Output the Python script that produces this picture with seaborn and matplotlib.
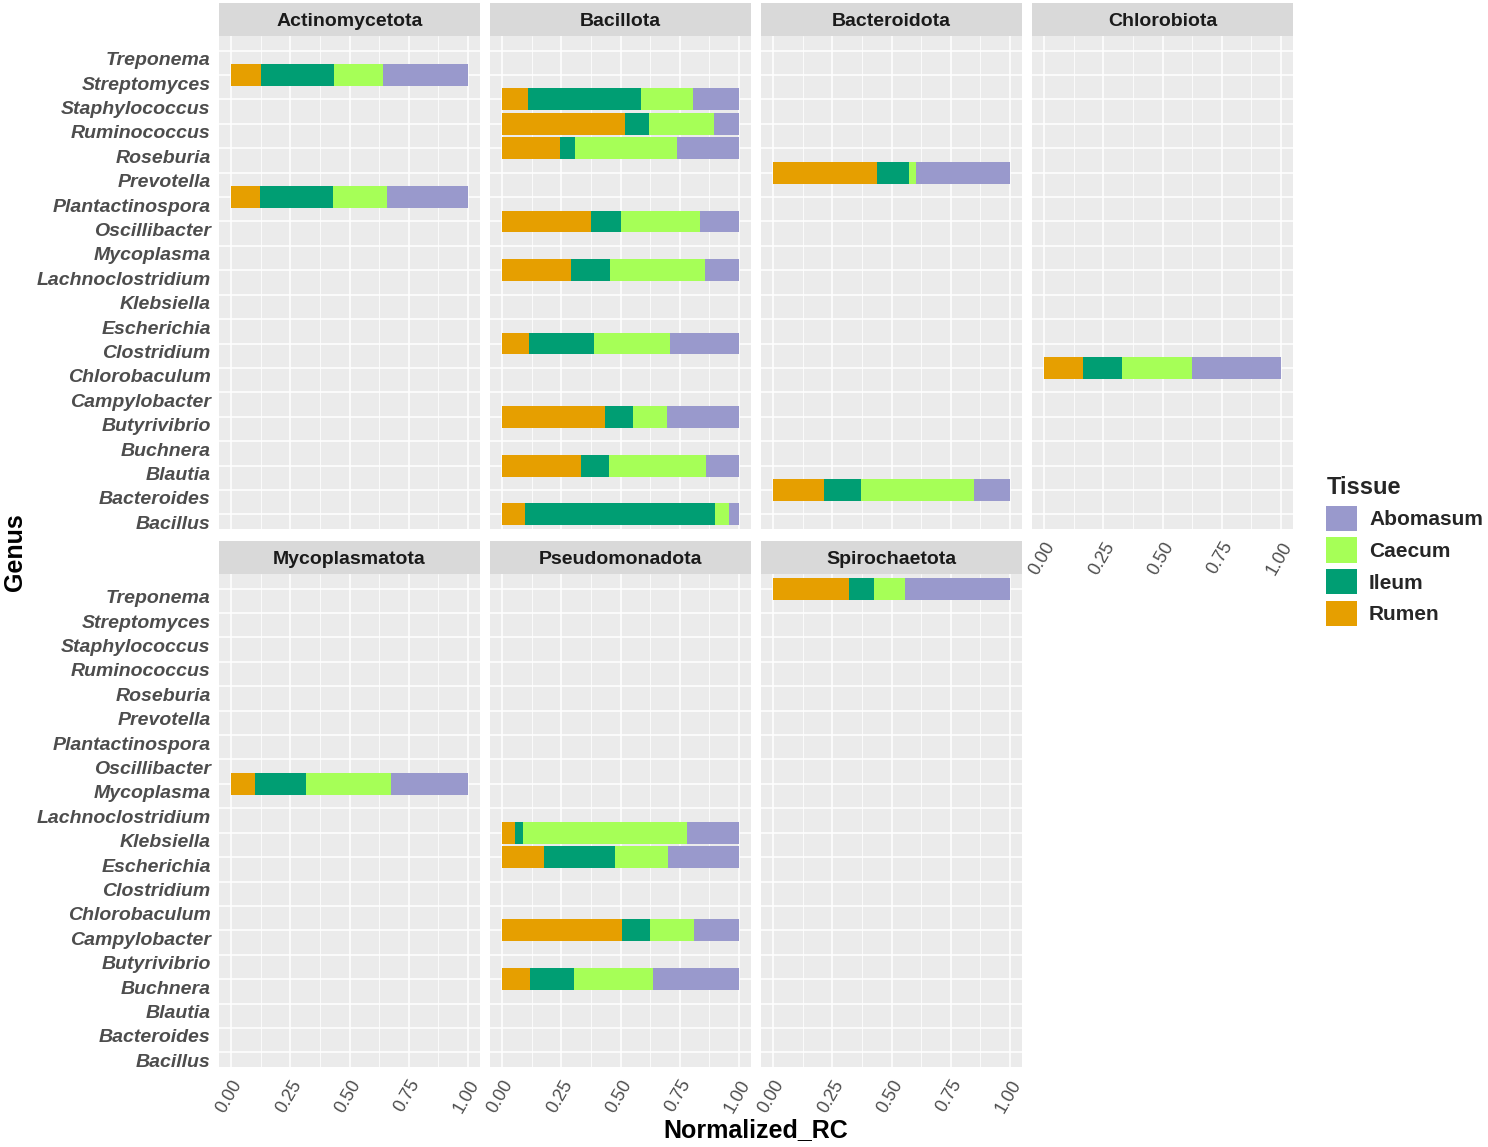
import numpy as np
import pandas as pd
import seaborn as sns
import matplotlib.pyplot as plt
from matplotlib.patches import Patch
from matplotlib.ticker import MultipleLocator
from matplotlib.transforms import ScaledTranslation
from matplotlib.font_manager import FontProperties

# Generos (de cima para baixo no eixo)
generos = ["Treponema", "Streptomyces", "Staphylococcus", "Ruminococcus", "Roseburia",
           "Prevotella", "Plantactinospora", "Oscillibacter", "Mycoplasma",
           "Lachnoclostridium", "Klebsiella", "Escherichia", "Clostridium",
           "Chlorobaculum", "Campylobacter", "Butyrivibrio", "Buchnera", "Blautia",
           "Bacteroides", "Bacillus"]

filos = ["Actinomycetota", "Bacillota", "Bacteroidota", "Chlorobiota",
         "Mycoplasmatota", "Pseudomonadota", "Spirochaetota"]

tecidos = ["Rumen", "Ileum", "Caecum", "Abomasum"]
cores = {"Rumen": "#E69F00", "Ileum": "#009E73", "Caecum": "#A6FF57", "Abomasum": "#9999CC"}

# Proporcao normalizada por tecido (Rumen, Ileum, Caecum, Abomasum)
filo = ["Actinomycetota", "Actinomycetota",
        "Bacillota", "Bacillota", "Bacillota", "Bacillota", "Bacillota",
        "Bacillota", "Bacillota", "Bacillota", "Bacillota",
        "Bacteroidota", "Bacteroidota",
        "Chlorobiota",
        "Mycoplasmatota",
        "Pseudomonadota", "Pseudomonadota", "Pseudomonadota", "Pseudomonadota",
        "Spirochaetota"]
genero = ["Streptomyces", "Plantactinospora",
          "Staphylococcus", "Ruminococcus", "Roseburia", "Oscillibacter", "Lachnoclostridium",
          "Clostridium", "Butyrivibrio", "Blautia", "Bacillus",
          "Prevotella", "Bacteroides",
          "Chlorobaculum",
          "Mycoplasma",
          "Klebsiella", "Escherichia", "Campylobacter", "Buchnera",
          "Treponema"]
rumen =    [0.127, 0.122, 0.109, 0.520, 0.244, 0.374, 0.290, 0.114, 0.433, 0.332, 0.097,
            0.437, 0.217, 0.164, 0.101, 0.055, 0.178, 0.505, 0.118, 0.320]
ileum =    [0.308, 0.310, 0.476, 0.100, 0.066, 0.127, 0.166, 0.273, 0.121, 0.120, 0.802,
            0.137, 0.156, 0.166, 0.216, 0.033, 0.300, 0.118, 0.188, 0.108]
caecum =   [0.205, 0.226, 0.219, 0.276, 0.429, 0.332, 0.402, 0.323, 0.144, 0.409, 0.058,
            0.030, 0.475, 0.296, 0.357, 0.692, 0.223, 0.185, 0.330, 0.127]
abomasum = [0.360, 0.342, 0.196, 0.104, 0.261, 0.167, 0.142, 0.290, 0.302, 0.139, 0.043,
            0.396, 0.152, 0.374, 0.326, 0.220, 0.299, 0.192, 0.364, 0.445]

df = pd.DataFrame({"Filo": filo, "Genus": genero, "Rumen": rumen, "Ileum": ileum,
                   "Caecum": caecum, "Abomasum": abomasum})
# soma acumulada para empilhar as barras
acum = df[tecidos].cumsum(axis=1)
for t in tecidos:
    df["cum_" + t] = acum[t]

sns.set_theme(style="darkgrid")
plt.rcParams["font.family"] = ["Liberation Sans", "DejaVu Sans"]

W, H = 1488, 1147
fig = plt.figure(figsize=(W / 100, H / 100), dpi=100)
fig.patch.set_facecolor("white")


def caixa(x0, y0, x1, y1):
    return [x0 / W, 1 - y1 / H, (x1 - x0) / W, (y1 - y0) / H]


colunas = [(219, 480), (490, 751), (761, 1022), (1032, 1293)]
linhas = [(3, 36, 529), (541, 574, 1067)]
cinza_texto = "#4D4D4D"

for i, nome in enumerate(filos):
    lin, col = divmod(i, 4)
    x0, x1 = colunas[col]
    ys, y0, y1 = linhas[lin]

    # faixa com o nome do filo
    fx = fig.add_axes(caixa(x0, ys, x1, y0))
    fx.set_facecolor("#D9D9D9")
    fx.set_xticks([]); fx.set_yticks([])
    for s in fx.spines.values():
        s.set_visible(False)
    fx.text(0.5, 0.45, nome, ha="center", va="center", fontsize=14,
            fontweight="bold", color="#1A1A1A", transform=fx.transAxes)

    ax = fig.add_axes(caixa(x0, y0, x1, y1))
    sub = df[df["Filo"] == nome]
    for t in tecidos[::-1]:
        sns.barplot(data=sub, x="cum_" + t, y="Genus", order=generos, orient="h",
                    color=cores[t], saturation=1, width=0.9, errorbar=None,
                    linewidth=0, ax=ax)

    ax.set_facecolor("#EBEBEB")
    for s in ax.spines.values():
        s.set_visible(False)
    ax.set_xlim(-0.05, 1.05)
    ax.set_ylim(len(generos) - 1 + 0.6, -0.6)
    ax.set_xticks([0, 0.25, 0.5, 0.75, 1.0])
    ax.xaxis.set_minor_locator(MultipleLocator(0.125))
    ax.set_axisbelow(True)
    ax.grid(True, which="major", color="white", linewidth=1.1)
    ax.grid(True, which="minor", axis="x", color="white", linewidth=0.55)
    ax.set_xlabel("")
    ax.set_ylabel("")
    ax.tick_params(axis="both", which="major", length=3, width=1.1, color="#333333",
                   labelcolor=cinza_texto)
    ax.tick_params(axis="x", which="minor", length=0)

    if col == 0:
        ax.set_yticks(range(len(generos)))
        ax.set_yticklabels(generos, fontsize=14, fontweight="bold", fontstyle="italic")
        ax.tick_params(axis="y", pad=3)
        for lab in ax.get_yticklabels():
            lab.set_transform(lab.get_transform() +
                              ScaledTranslation(0, -0.08, fig.dpi_scale_trans))
    else:
        ax.tick_params(axis="y", length=0, labelleft=False)

    if lin == 1 or nome == "Chlorobiota":
        ax.set_xticklabels(["0.00", "0.25", "0.50", "0.75", "1.00"], fontsize=13,
                           rotation=60, ha="right", va="top", rotation_mode="anchor")
        ax.tick_params(axis="x", pad=4)
    else:
        ax.tick_params(axis="x", length=0, labelbottom=False)

fig.text(756 / W, 1 - 1130 / H, "Normalized_RC", ha="center", va="center",
         fontsize=18, fontweight="bold", color="black")
fig.text(15 / W, 1 - 552 / H, "Genus", ha="center", va="center", rotation=90,
         fontsize=18, fontweight="bold", color="black")

# Legenda
nomes_leg = ["Abomasum", "Caecum", "Ileum", "Rumen"]
alcas = [Patch(facecolor=cores[t], edgecolor="none") for t in nomes_leg]
leg = fig.legend(alcas, nomes_leg, title="Tissue",
                 loc="upper left", bbox_to_anchor=(1318 / W, 1 - 468 / H),
                 frameon=False,
                 prop=FontProperties(family="Liberation Sans", size=15, weight="bold"),
                 title_fontproperties=FontProperties(family="Liberation Sans", size=17,
                                                     weight="bold"),
                 handlelength=1.45, handleheight=1.5, labelspacing=0.3,
                 handletextpad=0.6, borderaxespad=0)
leg._legend_box.align = "left"

fig.savefig("out.png", dpi=100, facecolor="white")
